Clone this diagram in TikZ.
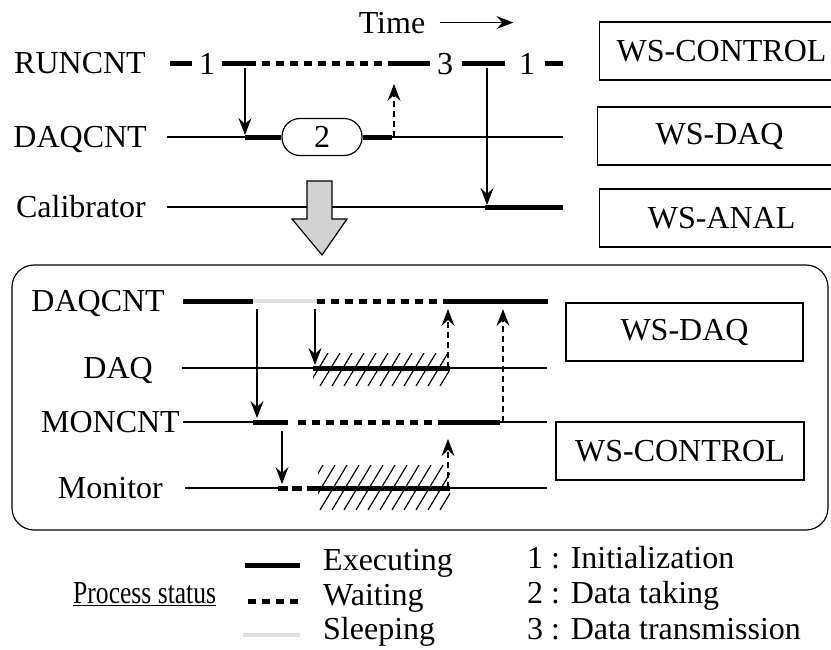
\documentclass[tikz,border=0pt]{standalone}
\usepackage{fontspec}
\setmainfont{Liberation Serif}
\usetikzlibrary{arrows.meta}
\tikzset{
	lbl/.style={inner sep=0pt, font=\fontsize{32}{38}\selectfont},
	thinline/.style={line width=1.2pt},
	exec/.style={line width=5pt},
	wait/.style={line width=5pt, dash pattern=on 8pt off 6pt},
	sleep/.style={line width=4.5pt, gray!25},
	call/.style={line width=1.2pt, -{Stealth[length=17pt,width=13pt,inset=6pt]}},
	reply/.style={call, dash pattern=on 6pt off 4pt},
	wsbox/.style={lbl, draw, line width=1.2pt, minimum height=58pt},
	hatch/.style={line width=1.2pt}
}
\begin{document}
\begin{tikzpicture}[x=1pt,y=-1pt]
				\useasboundingbox (0,0) rectangle (831,649);
				\clip (0,0) rectangle (831,649);
				% time axis
				\node[lbl, anchor=base] (time) at (392,33) {Time};
				\draw[call] ([xshift=15pt]time.east) -- ++(73,0);
				% upper part: run control
				\node[lbl, anchor=base east] (runcnt) at (146,73) {RUNCNT};
				\node[lbl, anchor=base east] (daqcnt) at (147,147) {DAQCNT};
				\node[lbl, anchor=base east] (calib) at (146,217) {Calibrator};
				\draw[exec] (170,63) -- (192,63);
				\node[lbl, anchor=base] (ini1) at (207,74) {1};
				\draw[exec] (222,63) -- (248,63);
				\draw[wait] (248,63) -- (388,63);
				\draw[exec] (388,63) -- (430,63);
				\node[lbl, anchor=base] (trans) at (445,74) {3};
				\draw[exec] (462,63) -- (505,63);
				\node[lbl, anchor=base] (ini2) at (527,74) {1};
				\draw[exec] (545,63) -- (563,63);
				\node[lbl, draw, line width=1.2pt, rounded corners=18pt, minimum width=80pt, minimum height=37pt] (take) at (322,137) {2};
				\draw[thinline] (167,137) -- (245,137);
				\draw[exec] (245,137) -- (take.west);
				\draw[exec] (take.east) -- (392,137);
				\draw[thinline] (392,137) -- (563,137);
				\draw[thinline] (167,207) -- (485,207);
				\draw[exec] (485,207) -- (563,207);
				\coordinate (r1) at (245,68); \coordinate (d1) at (245,135);
				\coordinate (d2) at (394,137); \coordinate (r2) at (394,84);
				\coordinate (r3) at (487,68); \coordinate (c3) at (487,205);
				\draw[call] (r1) -- (d1);
				\draw[reply] (d2) -- (r2);
				\draw[call] (r3) -- (c3);
				\node[wsbox, minimum width=244pt, anchor=west] (wsctl) at (599,51) {WS-CONTROL};
				\node[wsbox, minimum width=244pt, anchor=west] (wsdaq) at (597,136) {WS-DAQ};
				\node[wsbox, minimum width=244pt, anchor=west] (wsanal) at (599,218) {WS-ANAL};
				% big arrow
				\draw[line width=1.2pt, fill=gray!35] (307,181) -- (332,181) -- (332,219) -- (347,219) -- (322,255) -- (292,219) -- (307,219) -- cycle;
				% lower part: data taking
				\draw[line width=1.2pt, rounded corners=22pt] (12,265) rectangle (828,530);
				\node[lbl, anchor=base east] (daqcnt2) at (165,311) {DAQCNT};
				\node[lbl, anchor=base east] (daq) at (153,378) {DAQ};
				\node[lbl, anchor=base east] (moncnt) at (180,432) {MONCNT};
				\node[lbl, anchor=base east] (monitor) at (163,498) {Monitor};
				\begin{scope}
					\clip (313,353) rectangle (450,386);
					\foreach \x in {296,308,...,464} \draw[hatch] (\x,386) -- ++(20,-33);
				\end{scope}
				\begin{scope}
					\clip (318,465) rectangle (450,510);
					\foreach \x in {296,308,...,464} \draw[hatch] (\x,510) -- ++(27,-45);
				\end{scope}
				\draw[exec] (183,301) -- (253,301);
				\draw[sleep] (253,301) -- (317,301);
				\draw[wait] (317,301) -- (448,301);
				\draw[exec] (448,301) -- (548,301);
				\draw[thinline] (182,368) -- (313,368);
				\draw[exec] (313,368) -- (450,368);
				\draw[thinline] (450,368) -- (547,368);
				\draw[thinline] (183,422) -- (253,422);
				\draw[exec] (253,422) -- (288,422);
				\draw[wait] (298,422) -- (445,422);
				\draw[exec] (445,422) -- (500,422);
				\draw[thinline] (500,422) -- (547,422);
				\draw[thinline] (185,488) -- (278,488);
				\draw[exec, dash pattern=on 10pt off 4pt] (278,488) -- (302,488);
				\draw[exec] (307,488) -- (450,488);
				\draw[thinline] (450,488) -- (547,488);
				\coordinate (a1) at (257,309); \coordinate (a2) at (257,418);
				\coordinate (b1) at (315,309); \coordinate (b2) at (315,365);
				\coordinate (c1) at (282,431); \coordinate (c2) at (282,484);
				\coordinate (e1) at (448,368); \coordinate (e2) at (448,309);
				\coordinate (f1) at (448,488); \coordinate (f2) at (448,439);
				\coordinate (g1) at (503,422); \coordinate (g2) at (503,309);
				\draw[call] (a1) -- (a2);
				\draw[call] (b1) -- (b2);
				\draw[call] (c1) -- (c2);
				\draw[reply] (e1) -- (e2);
				\draw[reply] (f1) -- (f2);
				\draw[reply] (g1) -- (g2);
				\node[wsbox, minimum width=237pt] (wsdaq2) at (684.5,332) {WS-DAQ};
				\node[wsbox, minimum width=248pt] (wsctl2) at (680,451) {WS-CONTROL};
				% legend
				\node[lbl, anchor=base west] (pstat) at (73,603) {\underline{\scalebox{0.8}[1]{Process status}}};
				\draw[exec] (245,565) -- (300,565);
				\draw[wait] (248,601) -- (300,601);
				\draw[sleep] (243,635) -- (300,635);
				\node[lbl, anchor=base west] (lexec) at (323,570) {Executing};
				\node[lbl, anchor=base west] (lwait) at (323,605) {Waiting};
				\node[lbl, anchor=base west] (lsleep) at (323,639) {Sleeping};
				\node[lbl, anchor=base west] (lini) at (527,568) {1 : Initialization};
				\node[lbl, anchor=base west] (ltake) at (527,603) {2 : Data taking};
				\node[lbl, anchor=base west] (ltrans) at (527,639) {3 : Data transmission};
\end{tikzpicture}
\end{document}
